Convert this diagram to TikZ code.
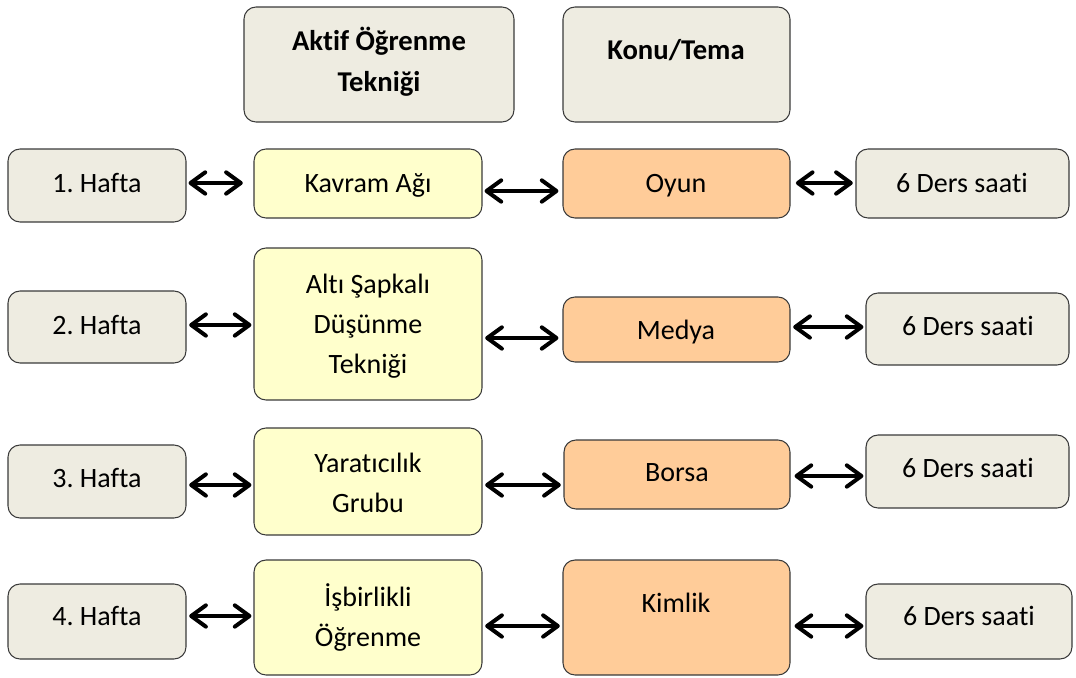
\documentclass[tikz,border=0pt]{standalone}
\usepackage{fontspec}
\setmainfont{Carlito}[Ligatures={NoCommon,NoRequired,NoContextual}]
\usetikzlibrary{arrows.meta,fit}
\definecolor{gfill}{HTML}{EEECE1}
\definecolor{yfill}{HTML}{FFFFCC}
\definecolor{ofill}{HTML}{FFCC99}
\definecolor{edge}{HTML}{3A3A3A}
\frenchspacing
\begin{document}
\begin{tikzpicture}[x=0.75pt,y=-0.75pt,
  box/.style={draw=edge,line width=0.8pt,rounded corners=9pt,inner sep=0pt},
  gbox/.style={box,fill=gfill},
  ybox/.style={box,fill=yfill},
  obox/.style={box,fill=ofill},
  mtxt/.style={inner sep=0pt,align=center,font=\fontsize{21}{30}\selectfont},
  txt/.style={mtxt,text height=14pt,text depth=4pt},
  htxt/.style={mtxt,font=\fontsize{21.5}{31}\bfseries},
  arr/.style={{Straight Barb[length=11pt,width=16pt,round]}-{Straight Barb[length=11pt,width=16pt,round]},line width=3pt,black}]
\useasboundingbox (0,0) rectangle (1076,678);
% headers
\node[gbox,fit={(244,7) (514,122)}] (hA) {};
\node[htxt] (hAt) at (379,62) {Aktif Öğrenme\\Tekniği};
\node[gbox,fit={(563,7) (790,122)}] (hK) {};
\node[htxt,text height=14pt,text depth=4pt] (hKt) at (676,53) {Konu/Tema};
% row 1
\node[gbox,fit={(8,149) (186,222)}] (w1) {};
\node[txt] (w1t) at (97,186) {1. Hafta};
\node[ybox,fit={(254,149) (482,218)}] (t1) {};
\node[txt] (t1t) at (368,186) {Kavram Ağı};
\node[obox,fit={(563,149) (790,218)}] (k1) {};
\node[txt] (k1t) at (676,186) {Oyun};
\node[gbox,fit={(856,149) (1069,218)}] (d1) {};
\node[txt] (d1t) at (962,186) {6 Ders saati};
% row 2
\node[gbox,fit={(8,291) (186,363)}] (w2) {};
\node[txt] (w2t) at (97,328) {2. Hafta};
\node[ybox,fit={(254,248) (482,400)}] (t2) {};
\node[mtxt] (t2t) at (368,326) {Altı Şapkalı\\Düşünme\\Tekniği};
\node[obox,fit={(563,297) (790,362)}] (k2) {};
\node[txt] (k2t) at (676,333) {Medya};
\node[gbox,fit={(866,293) (1069,365)}] (d2) {};
\node[txt] (d2t) at (968,329) {6 Ders saati};
% row 3
\node[gbox,fit={(8,445) (186,518)}] (w3) {};
\node[txt] (w3t) at (97,481) {3. Hafta};
\node[ybox,fit={(254,428) (482,535)}] (t3) {};
\node[mtxt] (t3t) at (368,483) {Yaratıcılık\\Grubu};
\node[obox,fit={(564,440) (790,509)}] (k3) {};
\node[txt] (k3t) at (677,475) {Borsa};
\node[gbox,fit={(866,435) (1069,508)}] (d3) {};
\node[txt] (d3t) at (968,471) {6 Ders saati};
% row 4
\node[gbox,fit={(8,584) (186,659)}] (w4) {};
\node[txt] (w4t) at (97,619) {4. Hafta};
\node[ybox,fit={(254,560) (482,675)}] (t4) {};
\node[mtxt] (t4t) at (368,617) {İşbirlikli\\Öğrenme};
\node[obox,fit={(563,560) (790,675)}] (k4) {};
\node[txt] (k4t) at (676,606) {Kimlik};
\node[gbox,fit={(866,584) (1072,659)}] (d4) {};
\node[txt] (d4t) at (969,619) {6 Ders saati};
% arrows
\draw[arr,shorten <=1.5pt,shorten >=8pt] (w1.east |- 0,183) -- (t1.west |- 0,183);
\draw[arr,shorten <=1.5pt,shorten >=3pt] (t1.east |- 0,191) -- (k1.west |- 0,191);
\draw[arr,shorten <=4pt,shorten >=2pt] (k1.east |- 0,183) -- (d1.west |- 0,183);
\draw[arr,shorten <=2pt,shorten >=1.5pt] (w2.east |- 0,325) -- (t2.west |- 0,325);
\draw[arr,shorten <=2pt,shorten >=3pt] (t2.east |- 0,338) -- (k2.west |- 0,338);
\draw[arr,shorten <=2pt,shorten >=1.5pt] (k2.east |- 0,327) -- (d2.west |- 0,327);
\draw[arr,shorten <=2pt,shorten >=1.5pt] (w3.east |- 0,485) -- (t3.west |- 0,485);
\draw[arr,shorten <=2pt,shorten >=2pt] (t3.east |- 0,485) -- (k3.west |- 0,485);
\draw[arr,shorten <=3pt,shorten >=1.5pt] (k3.east |- 0,476) -- (d3.west |- 0,476);
\draw[arr,shorten <=2pt,shorten >=1.5pt] (w4.east |- 0,616) -- (t4.west |- 0,616);
\draw[arr,shorten <=2pt,shorten >=2pt] (t4.east |- 0,626) -- (k4.west |- 0,626);
\draw[arr,shorten <=3pt,shorten >=1.5pt] (k4.east |- 0,626) -- (d4.west |- 0,626);
\end{tikzpicture}
\end{document}
